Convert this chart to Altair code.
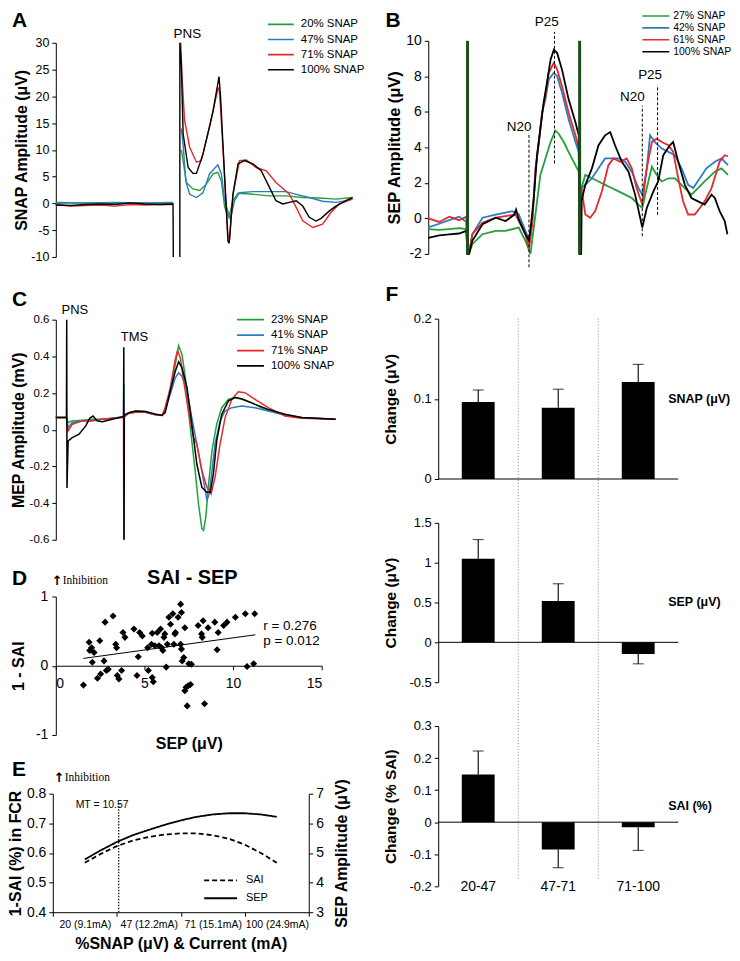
import altair as alt
import pandas as pd

FONT = "Liberation Sans"
SERIF = "Liberation Serif"
MU = "\u03bc"

GREEN = "#22a03a"
BLUE = "#2c7cc3"
RED = "#e52a2a"
BLACK = "#000000"
SNAP_COLORS = [GREEN, BLUE, RED, BLACK]

# ---------------- Panel A : SNAP traces (sweep time in arbitrary units 0-100) -------------
A_LEVELS = ["20% SNAP", "47% SNAP", "71% SNAP", "100% SNAP"]
A20_BASE = [(0, 0.0), (10, 0.1), (20, 0.0), (30, 0.1), (39.5, 0.0)]
A20_RESP = [(42.3, 10), (42.9, 8.0), (44.0, 3.9), (46.2, 2.7), (48.5, 2.4), (50.7, 3.6), (53.0, 5.5),
            (54.6, 5.8), (55.8, 4.2), (56.9, -0.75), (58.3, -2.6), (59.7, 0.5), (61.4, 1.9), (66.4, 1.7),
            (72.0, 1.4), (77.6, 1.4), (83.2, 1.1), (88.8, 1.0), (94.4, 0.8), (100, 1.1)]
A47_BASE = [(0, 0.2), (10, 0.1), (20, 0.2), (30, 0.1), (39.5, 0.2)]
A47_RESP = [(42.3, 14), (42.9, 11), (43.8, 4.2), (45.1, 1.7), (47.4, 1.1), (49.6, 2.0), (51.8, 5.5),
            (54.6, 7.2), (55.8, 5.5), (56.9, 0.5), (58.8, -2.9), (60.2, 0.5), (61.9, 2.0), (66.4, 2.2),
            (72.0, 2.2), (77.6, 2.2), (81.0, 1.7), (85.4, 1.1), (89.9, 0.4), (94.4, 0.2), (97.8, 0.5),
            (100, 1.1)]
A71_BASE = [(0, -0.2), (5, -0.5), (10, -0.4), (15, -0.3), (20, -0.5), (25, -0.2), (30, -0.3),
            (35, -0.2), (39.5, -0.2)]
A71_RESP = [(42.1, 30), (42.5, 24), (43.4, 15.5), (45.1, 10.5), (47.4, 7.7), (49.0, 8.0), (51.8, 14.2),
            (54.6, 21.4), (55.0, 21.6), (55.5, 18), (58.0, -6.0), (58.6, -6.5), (59.7, 1.7), (61.9, 8.0),
            (64.2, 8.1), (67.5, 6.7), (70.9, 6.1), (74.2, 3.9), (78.7, 1.7), (81.0, -0.75), (83.2, -3.25),
            (86.6, -4.5), (89.9, -3.9), (92.7, -1.7), (95.5, -0.1), (100, 0.8)]
A100_BASE = [(0, -0.3), (5, -0.4), (10, -0.2), (15, -0.1), (20, -0.2), (25, 0.1), (30, -0.1), (35, -0.2),
             (39.5, -0.1), (39.6, -10)]
A100_RESP = [(41.8, -10), (41.8, 30), (42.3, 26), (42.9, 13), (44.6, 6.7),
             (46.2, 5.6), (47.4, 5.6), (49.6, 9.2), (53.0, 17.3), (55.0, 23.7), (55.5, 20), (58.0, -7.0),
             (58.4, -7.5), (59.7, 1.7), (61.4, 7.4), (63.6, 8.0), (66.4, 7.4), (69.2, 6.1), (72.0, 3.0),
             (74.2, 0.5), (76.5, -0.1), (78.7, 0.2), (81.0, 0.5), (83.2, -0.5), (85.4, -2.6), (87.7, -3.3),
             (89.4, -2.8), (92.2, -1.4), (94.4, -0.5), (97.8, 0.5), (100, 1.1)]
A_NOTE = ["PNS"]
A_NOTE_T = [44.3]
A_NOTE_V = [31.7]

# ---------------- Panel B : SEP traces -------------
B_LEVELS = ["27% SNAP", "42% SNAP", "61% SNAP", "100% SNAP"]
B27 = [(0, -0.6), (3.65, -0.65), (7, -0.6), (10.3, -0.55), (12.7, -0.6), (13.1, -2.0), (13.6, -2.0),
       (14.7, -1.45), (18.1, -0.89), (22.5, -0.7), (25.8, -0.7), (30.2, -0.52), (32.4, -1.26),
       (34.1, -2.0), (35.2, -0.52), (36.3, 0.96), (37.4, 2.45), (39.1, 3.38), (40.8, 4.3), (42.4, 4.95),
       (43.5, 4.77), (45.2, 4.3), (46.8, 3.75), (49.1, 3.0), (50.2, 2.63), (50.5, -2.0), (51.0, -2.0),
       (51.1, 1.71), (52.4, 2.45), (54.6, 2.26), (56.8, 2.08), (59.0, 1.89), (61.2, 1.71), (63.5, 1.52),
       (65.7, 1.34), (67.9, 1.15), (70.1, 0.78), (71.4, 0.59), (72.9, 1.71), (74.6, 2.91), (76.2, 2.45),
       (77.9, 2.08), (80.1, 2.26), (82.3, 2.26), (84.5, 1.89), (87.8, 1.34), (90.0, 1.71), (92.2, 2.08),
       (95.6, 2.63), (97.8, 2.82), (100, 2.45)]
B42 = [(0, -0.5), (3.65, -0.3), (7, -0.1), (10.3, 0.1), (12.7, -0.2), (13.1, -2.0), (13.6, -2.0),
       (14.7, -0.89), (18.1, 0.04), (22.5, 0.22), (25.8, 0.32), (28.0, 0.41), (30.2, 0.22), (32.4, -0.7),
       (33.6, -1.17), (34.7, -0.15), (35.8, 2.82), (36.9, 4.3), (38.0, 5.97), (39.1, 6.72), (40.2, 7.83),
       (41.9, 8.2), (43.0, 8.01), (44.6, 7.09), (46.8, 5.6), (49.1, 4.3), (50.2, 3.75), (50.5, -2.0),
       (51.0, -2.0), (51.1, 1.71), (52.4, 1.89), (54.6, 2.26), (56.8, 2.82), (59.0, 3.38), (61.2, 3.38),
       (63.5, 3.38), (65.7, 3.19), (67.9, 2.63), (70.1, 1.71), (71.4, 1.34), (72.9, 2.82), (74.0, 4.68),
       (75.6, 4.3), (77.9, 3.93), (80.1, 3.75), (82.3, 3.56), (84.5, 2.82), (86.7, 1.89), (88.4, 1.71),
       (90.6, 2.26), (92.8, 2.82), (95.6, 3.19), (97.8, 3.38), (100, 3.0)]
B61 = [(0, 0.0), (3.65, -0.2), (7, 0.1), (10.3, -0.1), (12.7, 0.1), (13.1, -2.0), (13.6, -2.0),
       (14.7, -0.89), (18.1, -0.24), (22.5, 0.04), (25.8, 0.13), (29.1, 0.22), (30.2, -0.15),
       (32.4, -0.89), (33.6, -1.7), (34.7, -0.33), (35.8, 2.82), (36.9, 4.3), (38.0, 5.97), (39.1, 6.9),
       (40.2, 8.2), (41.9, 8.76), (43.0, 8.39), (44.6, 7.46), (46.8, 5.97), (49.1, 4.68), (50.2, 3.93),
       (50.5, -2.0), (51.0, -2.0), (51.1, 1.71), (52.4, 0.22), (54.0, 0.04), (55.7, 0.41), (57.9, 1.52),
       (60.1, 3.0), (61.8, 3.38), (64.0, 3.19), (66.2, 3.38), (67.9, 2.82), (69.5, 1.71), (71.4, 0.78),
       (72.9, 2.82), (74.6, 4.3), (76.2, 4.49), (77.9, 4.3), (80.1, 4.12), (81.7, 3.75), (83.4, 2.26),
       (85.0, 0.96), (86.7, 0.22), (88.9, 0.22), (90.6, 0.59), (92.2, 0.96), (94.5, 1.71), (97.2, 3.19),
       (98.9, 3.56), (100, 3.5)]
B100 = [(0, -1.1), (3.65, -0.95), (7, -0.9), (10.3, -0.85), (12.7, -0.7), (13.1, -2.0), (13.6, -2.0),
        (14.7, -1.26), (18.1, -0.33), (22.5, 0.04), (25.8, -0.15), (28.6, 0.2), (29.3, 0.5), (30.2, -0.06),
        (32.4, -0.89), (33.6, -1.26), (34.4, -0.15), (35.2, 1.15), (36.3, 3.56), (37.4, 5.05), (38.5, 6.53),
        (39.6, 7.64), (40.8, 8.94), (41.9, 9.5), (43.0, 9.31), (44.6, 8.39), (46.8, 6.72), (49.1, 5.42),
        (50.2, 4.68), (50.5, -2.0), (51.0, -2.0), (51.1, 0.96), (52.4, 1.89), (54.6, 2.82), (56.8, 4.12),
        (59.0, 4.68), (60.7, 4.86), (62.3, 4.12), (64.6, 3.19), (66.8, 2.63), (69.0, 1.34), (71.4, -0.52),
        (72.9, 0.59), (75.1, 1.52), (76.7, 2.08), (78.4, 3.56), (80.6, 4.12), (81.7, 4.3), (83.4, 3.19),
        (85.6, 1.89), (87.8, 1.15), (90.0, 0.96), (92.2, 0.78), (94.5, 1.34), (95.6, 1.15), (97.2, 0.41),
        (98.9, -0.15), (99.8, -0.89)]
B_ART_T = [13.1, 50.5]
B_ART_LO = [-2, -2]
B_ART_HI = [10, 10]
B_MARK_T = [33.6, 42.1, 71.4, 76.5]
B_MARK_LO = [-2.75, 3.1, -1.0, 0.2]
B_MARK_HI = [4.7, 10.5, 6.35, 7.5]
B_LAB = ["N20", "P25", "N20", "P25"]
B_LAB_T = [30.3, 39.5, 68.1, 74.0]
B_LAB_V = [5.14, 11.04, 6.86, 8.05]

# ---------------- Panel C : MEP traces -------------
C_LEVELS = ["23% SNAP", "41% SNAP", "71% SNAP", "100% SNAP"]
C23 = [(0, 0.066), (3.8, 0.066), (4.4, 0.039), (5.9, 0.048), (9.5, 0.052), (13.0, 0.057), (16.6, 0.057),
       (23.7, 0.07), (24.5, 0.075), (26.1, 0.093), (28.5, 0.1), (32.0, 0.099), (35.6, 0.084), (38.0, 0.079),
       (39.1, 0.12), (40.9, 0.211), (42.7, 0.356), (43.9, 0.459), (45.1, 0.41), (46.3, 0.283), (47.4, 0.102),
       (48.6, -0.061), (49.8, -0.224), (51.0, -0.405), (52.2, -0.54), (52.8, -0.549), (53.6, -0.477),
       (54.6, -0.296), (55.8, -0.115), (57.5, 0.03), (59.3, 0.12), (61.7, 0.166), (64.1, 0.175),
       (66.4, 0.166), (70.0, 0.148), (73.5, 0.12), (78.3, 0.093), (83.0, 0.075), (87.8, 0.066),
       (93.7, 0.061), (100, 0.057)]
C41 = [(0, 0.066), (3.8, 0.066), (4.4, 0.012), (5.9, 0.039), (9.5, 0.048), (13.0, 0.052), (16.6, 0.057),
       (23.7, 0.066), (24.2, 0.066), (24.3, 0.247), (24.4, 0.07), (26.1, 0.09), (28.5, 0.095), (32.0, 0.095),
       (35.6, 0.082), (38.0, 0.078), (39.1, 0.111), (40.9, 0.193), (42.7, 0.283), (43.9, 0.31), (45.1, 0.292),
       (46.9, 0.211), (48.6, 0.066), (50.4, -0.079), (52.2, -0.224), (53.4, -0.332), (54.0, -0.386),
       (54.8, -0.35), (55.8, -0.224), (56.9, -0.079), (58.7, 0.048), (60.5, 0.102), (62.9, 0.12),
       (66.4, 0.129), (71.2, 0.12), (75.9, 0.102), (81.9, 0.081), (87.8, 0.066), (100, 0.057)]
C71 = [(0, 0.066), (3.8, 0.066), (4.4, -0.006), (5.9, 0.03), (9.5, 0.048), (13.0, 0.048), (16.6, 0.057),
       (23.7, 0.066), (24.2, 0.066), (24.3, -0.6), (24.4, 0.07), (26.1, 0.09), (28.5, 0.095), (32.0, 0.095),
       (35.6, 0.082), (38.0, 0.078), (39.1, 0.12), (40.9, 0.229), (42.7, 0.383), (43.5, 0.432), (44.5, 0.392),
       (45.7, 0.265), (47.4, 0.102), (49.2, -0.043), (50.4, -0.079), (52.2, -0.224), (54.0, -0.314),
       (55.5, -0.35), (56.9, -0.26), (58.7, -0.079), (60.5, 0.066), (62.9, 0.166), (65.2, 0.207),
       (67.6, 0.202), (71.2, 0.166), (75.9, 0.12), (81.9, 0.075), (87.8, 0.062), (100, 0.057)]
C100 = [(0, 0.066), (3.8, 0.066), (3.9, 0.6), (4.0, -0.318), (4.4, -0.061), (5.9, -0.043), (8.3, -0.024),
        (10.7, 0.021), (12.1, 0.062), (13.3, 0.075), (14.8, 0.048), (16.6, 0.044), (20.2, 0.057),
        (23.7, 0.07), (24.2, 0.07), (24.3, 0.45), (24.4, -0.6), (24.5, 0.08), (26.1, 0.093), (28.5, 0.102),
        (32.0, 0.099), (35.6, 0.084), (38.0, 0.079), (39.1, 0.093), (40.9, 0.211), (42.7, 0.319),
        (43.9, 0.37), (45.1, 0.338), (46.9, 0.229), (48.6, 0.03), (50.4, -0.187), (52.2, -0.314),
        (54.0, -0.341), (55.2, -0.341), (56.3, -0.242), (57.5, -0.061), (59.3, 0.084), (61.7, 0.157),
        (64.1, 0.175), (66.4, 0.169), (71.2, 0.138), (75.9, 0.111), (81.9, 0.084), (87.8, 0.066),
        (100, 0.057)]
C_NOTE = ["PNS", "TMS"]
C_NOTE_T = [6.8, 28.1]
C_NOTE_V = [0.654, 0.508]

# ---------------- Panel D : scatter -------------
D_SEP = [1.56, 1.88, 1.91, 2.02, 2.16, 2.06, 2.35, 2.48, 2.53, 2.72, 2.78, 2.85, 2.96, 3.23, 3.38, 3.43,
         3.47, 3.56, 3.71, 3.79, 3.90, 4.41, 4.58, 4.65, 4.73, 4.88, 5.22, 5.18, 5.40, 5.44, 5.44, 5.50,
         5.59, 5.72, 5.82, 5.91, 5.97, 6.04, 6.10, 6.15, 6.23, 6.29, 6.38, 6.47, 6.60, 6.66, 6.72, 6.75,
         6.90, 7.04, 7.09, 7.09, 7.04, 7.13, 7.22, 7.28, 7.28, 7.35, 7.47, 7.60, 7.41, 7.50, 7.65, 8.03,
         8.22, 8.26, 8.31, 8.39, 8.59, 8.97, 9.10, 9.16, 9.47, 9.66, 10.13, 10.69, 10.79, 11.22, 11.16]
D_SAI = [-0.28, 0.34, 0.22, 0.26, 0.19, 0.05, -0.18, 0.36, -0.12, 0.07, 0.63, -0.07, -0.05, 0.72, 0.31, 0.26,
         -0.14, -0.19, -0.07, 0.48, 0.41, 0.53, -0.14, 0.13, 0.48, 0.43, -0.07, 0.26, 0.31, 0.47, -0.17, -0.23,
         0.29, 0.48, 0.29, 0.53, 0.26, 0.22, 0.41, 0.46, -0.02, 0.31, 0.70, 0.60, 0.75, 0.31, 0.46, 0.48,
         0.70, 0.31, 0.24, 0.77, 0.89, 0.07, 0.12, 0.55, -0.36, -0.31, -0.29, -0.27, -0.58, 0.03, 0.02, 0.58,
         0.46, 0.41, 0.65, -0.55, 0.55, 0.63, 0.23, 0.48, 0.58, 0.63, 0.70, 0.75, -0.01, 0.75, 0.03]
D_FIT_X = [1.56, 11.26]
D_FIT_Y = [0.106, 0.447]
D_STATS = ["r = 0.276", "p = 0.012"]
D_STATS_X = [11.7, 11.7]
D_STATS_Y = [0.58, 0.35]
D_TITLE = ["SAI - SEP"]
D_TITLE_X = [7.7]
D_TITLE_Y = [1.27]

# ---------------- Panel E : fitted curves -------------
E_IDX = [1, 1.25, 1.5, 1.75, 2, 2.25, 2.5, 2.75, 3, 3.25, 3.5, 3.75, 4]
E_SAI = [0.567, 0.597, 0.623, 0.642, 0.654, 0.662, 0.666, 0.666, 0.660, 0.648, 0.628, 0.600, 0.567]
E_SEP = [4.78, 5.09, 5.37, 5.60, 5.78, 5.95, 6.10, 6.22, 6.30, 6.34, 6.34, 6.30, 6.22]
E_XLABELS = ["20 (9.1mA)", "47 (12.2mA)", "71 (15.1mA)", "100 (24.9mA)"]
E_MT_I = [1.53]
E_MT_LO = [0.4]
E_MT_HI = [0.771]
E_MT_LAB = ["MT = 10.57"]
E_MT_LAB_I = [1.27]
E_MT_LAB_V = [0.763]

# ---------------- Panel F : bar charts -------------
F_CATS = ["20-47", "47-71", "71-100"]
F_SNAP = [0.096, 0.089, 0.121]
F_SNAP_ERR = [0.111, 0.112, 0.143]
F_SEP = [1.05, 0.52, -0.146]
F_SEP_ERR = [1.29, 0.735, -0.27]
F_SAI = [0.149, -0.085, -0.0155]
F_SAI_ERR = [0.222, -0.142, -0.088]
F_SEPARATORS = ["47-71", "71-100"]

NUM_LABEL = "'' + datum.value"

# ---------------- layout of the single shared view (pixels) -------------
W, H = 675, 873
A_X, A_Y = (0, 298), (0, 215)
B_X, B_Y = (374, 675), (-2, 212)
C_X, C_Y = (0, 281), (278, 499)
D_X, D_Y = (0, 267), (556, 695)
E_X, E_Y = (-3, 254), (754, 873)
F_X = (384, 625)
F1_Y, F2_Y, F3_Y = (277, 438), (482, 642), (686, 847)


def trace_frame(rows):
    recs = []
    for name, seg, pts in rows:
        for k, (t, v) in enumerate(pts):
            recs.append({"series": name, "seg": name + "|" + seg, "t": t, "v": v, "k": k})
    return pd.DataFrame(recs)


def text_at(text, dx, dy, size, font=FONT, weight="normal", baseline="top"):
    return alt.Chart(pd.DataFrame({"lab": [text]})).mark_text(
        font=font, fontSize=size, fontWeight=weight, align="left", baseline=baseline, color="black"
    ).encode(x=alt.value(dx), y=alt.value(dy), text="lab:N")


def letter(text, dx, dy):
    return text_at(text, dx, dy, 21, weight="bold")


def inhibition(dx, dy):
    return [text_at("\u2191", dx, dy, 13, font="DejaVu Sans", weight="bold", baseline="middle"),
            text_at("Inhibition", dx + 11, dy, 11.5, font=SERIF, baseline="middle")]


def snap_legend(x, y, size, clip, rowpad, fs, offset, sw):
    return alt.Legend(orient="none", legendX=x, legendY=y, title=None, direction="vertical",
                      symbolType="stroke", symbolSize=size, symbolStrokeWidth=sw, clipHeight=clip,
                      rowPadding=rowpad, labelFontSize=fs, labelOffset=offset, padding=0, labelFont=FONT)


def yax(values, title, lsize, tsize, tx, offset):
    return alt.Axis(values=values, title=title, orient="left", offset=offset, labelFontSize=lsize,
                    titleFontSize=tsize, titleX=tx, titleBaseline="middle", labelExpr=NUM_LABEL,
                    labelPadding=3)


def qscale(dom, rng):
    return alt.Scale(domain=list(dom), range=list(rng), nice=False, zero=False)


def wave_panel(df, levels, xrng, yrng, ydom, yaxis, legend, extra_layers, width=1.3):
    xs = qscale([0, 100], xrng)
    ys = qscale(ydom, [yrng[1], yrng[0]])
    X = alt.X("t:Q", scale=xs, axis=None)

    def Y(f):
        return alt.Y(f, scale=ys, axis=yaxis)

    lines = alt.Chart(df).mark_line(strokeWidth=width).encode(
        x=X, y=Y("v:Q"),
        color=alt.Color("series:N", scale=alt.Scale(domain=levels, range=SNAP_COLORS), legend=legend),
        detail="seg:N", order="k:Q")
    layers = [lines] + [f(X, Y) for f in extra_layers]
    return alt.layer(*layers)


# ---- A
dfA = trace_frame([
    (A_LEVELS[0], "b", A20_BASE), (A_LEVELS[0], "r", A20_RESP),
    (A_LEVELS[1], "b", A47_BASE), (A_LEVELS[1], "r", A47_RESP),
    (A_LEVELS[2], "b", A71_BASE), (A_LEVELS[2], "r", A71_RESP),
    (A_LEVELS[3], "b", A100_BASE), (A_LEVELS[3], "r", A100_RESP)])
axA = yax(list(range(-10, 31, 5)), "SNAP Amplitude (" + MU + "V)", 12.5, 16, -34, -A_X[0])


def a_note(X, Y):
    return alt.Chart(pd.DataFrame({"t": A_NOTE_T, "v": A_NOTE_V, "lab": A_NOTE})).mark_text(
        font=FONT, fontSize=13.5, color="black").encode(x=X, y=Y("v:Q"), text="lab:N")


panelA = wave_panel(dfA, A_LEVELS, A_X, A_Y, [-10, 30], axA,
                    snap_legend(212, -25, 676, 13, 2.2, 11.5, 6, 1.6), [a_note], 1.4)

# ---- B
dfB = trace_frame([(B_LEVELS[0], "a", B27), (B_LEVELS[1], "a", B42), (B_LEVELS[2], "a", B61),
                   (B_LEVELS[3], "a", B100)])
axB = yax([-2, 0, 2, 4, 6, 8, 10], "SEP Amplitude (" + MU + "V)", 14, 16.5, -34, -B_X[0])


def b_art(X, Y):
    return alt.Chart(pd.DataFrame({"t": B_ART_T, "lo": B_ART_LO, "hi": B_ART_HI})).mark_rule(
        color="#1a4f1a", strokeWidth=3).encode(x=X, y=Y("lo:Q"), y2="hi:Q")


def b_marks(X, Y):
    return alt.Chart(pd.DataFrame({"t": B_MARK_T, "lo": B_MARK_LO, "hi": B_MARK_HI})).mark_rule(
        color="black", strokeWidth=1, strokeDash=[3, 2]).encode(x=X, y=Y("lo:Q"), y2="hi:Q")


def b_labels(X, Y):
    return alt.Chart(pd.DataFrame({"t": B_LAB_T, "v": B_LAB_V, "lab": B_LAB})).mark_text(
        font=FONT, fontSize=13.5, color="black").encode(x=X, y=Y("v:Q"), text="lab:N")


panelB = wave_panel(dfB, B_LEVELS, B_X, B_Y, [-2, 10], axB,
                    snap_legend(588, -32, 729, 10, 1, 10.5, 3, 1.6), [b_art, b_marks, b_labels], 1.8)

# ---- C
dfC = trace_frame([(C_LEVELS[0], "a", C23), (C_LEVELS[1], "a", C41), (C_LEVELS[2], "a", C71),
                   (C_LEVELS[3], "a", C100)])
axC = yax([-0.6, -0.4, -0.2, 0, 0.2, 0.4, 0.6], "MEP Amplitude (mV)", 11.5, 16, -37, -C_X[0])


def c_note(X, Y):
    return alt.Chart(pd.DataFrame({"t": C_NOTE_T, "v": C_NOTE_V, "lab": C_NOTE})).mark_text(
        font=FONT, fontSize=13, color="black").encode(x=X, y=Y("v:Q"), text="lab:N")


panelC = wave_panel(dfC, C_LEVELS, C_X, C_Y, [-0.6, 0.6], axC,
                    snap_legend(181, C_Y[0] - 6.5, 729, 13, 2.5, 11.5, 6, 1.8), [c_note], 1.5)

# ---- D
xsD = qscale([0, 15], D_X)
ysD = qscale([-1, 1], [D_Y[1], D_Y[0]])
d_zero = (D_Y[0] + D_Y[1]) / 2.0
xaxD = alt.Axis(values=[0, 5, 10, 15], orient="bottom", offset=d_zero - H, title="SEP (" + MU + "V)",
                titleY=78.5, titleBaseline="middle", labelPadding=7, labelFontSize=14, titleFontSize=16)
yaxD = alt.Axis(values=[-1, 0, 1], orient="left", offset=-D_X[0], title="1 - SAI", titleX=-37,
                titleBaseline="middle", labelFontSize=14, titleFontSize=16, labelExpr=NUM_LABEL,
                labelPadding=4)
XD = alt.X("sep:Q", scale=xsD, axis=xaxD)
YD = alt.Y("sai:Q", scale=ysD, axis=yaxD)
d_pts = alt.Chart(pd.DataFrame({"sep": D_SEP, "sai": D_SAI})).mark_point(
    shape="diamond", filled=True, size=50, color="black", opacity=1).encode(x=XD, y=YD)
d_fit = alt.Chart(pd.DataFrame({"sep": D_FIT_X, "sai": D_FIT_Y})).mark_line(
    color="black", strokeWidth=1).encode(x=XD, y=YD)
d_stats = alt.Chart(pd.DataFrame({"sep": D_STATS_X, "sai": D_STATS_Y, "lab": D_STATS})).mark_text(
    font=FONT, fontSize=13.5, align="left", color="black").encode(x=XD, y=YD, text="lab:N")
d_title = alt.Chart(pd.DataFrame({"sep": D_TITLE_X, "sai": D_TITLE_Y, "lab": D_TITLE})).mark_text(
    font=FONT, fontSize=20, fontWeight="bold", color="black").encode(x=XD, y=YD, text="lab:N")
panelD = alt.layer(d_fit, d_pts, d_stats, d_title)

# ---- E
label_expr_E = "".join("datum.value === %d ? '%s' : " % (i + 1, s) for i, s in enumerate(E_XLABELS)) + "''"
xaxE = alt.Axis(values=[0.5, 1, 1.5, 2, 2.5, 3, 3.5, 4, 4.5], orient="bottom", offset=E_Y[1] - H,
                labelExpr=label_expr_E,
                tickOpacity={"condition": {"test": "datum.value % 1 === 0.5", "value": 1}, "value": 0},
                labelFontSize=10.5, labelPadding=3, labelFlush=False, labelOverlap=False,
                title="%SNAP (" + MU + "V) & Current (mA)", titleFontSize=16, titleY=31,
                titleBaseline="middle")
XE = alt.X("i:Q", scale=qscale([0.5, 4.5], E_X), axis=xaxE)
ysE_left = qscale([0.4, 0.8], [E_Y[1], E_Y[0]])
ysE_right = qscale([3, 7], [E_Y[1], E_Y[0]])
yaxE_left = alt.Axis(values=[0.4, 0.5, 0.6, 0.7, 0.8], orient="left", offset=-E_X[0],
                     title="1-SAI (%) in FCR", titleX=-37, titleBaseline="middle", labelFontSize=14,
                     titleFontSize=16, labelExpr=NUM_LABEL, labelPadding=3)
yaxE_right = alt.Axis(values=[3, 4, 5, 6, 7], orient="right", offset=E_X[1] - W,
                      title="SEP Amplitude (" + MU + "V)", titleX=33, titleAngle=270,
                      titleBaseline="middle", labelFontSize=14, titleFontSize=16, labelExpr=NUM_LABEL,
                      labelPadding=3)
dash = alt.StrokeDash("series:N", scale=alt.Scale(domain=["SAI", "SEP"], range=[[5, 3], [1, 0]]),
                      legend=alt.Legend(orient="none", legendX=148, legendY=E_Y[0] + 81, title=None,
                                        direction="vertical", symbolType="stroke", symbolSize=1089,
                                        symbolStrokeWidth=1.8, symbolStrokeColor="black", clipHeight=12,
                                        rowPadding=6, labelFontSize=11, labelOffset=8, padding=0,
                                        labelFont=FONT))
dfE = pd.DataFrame({"i": E_IDX * 2, "val": E_SAI + E_SEP,
                    "series": ["SAI"] * len(E_IDX) + ["SEP"] * len(E_IDX)})
e_sai = alt.Chart(dfE).transform_filter("datum.series == 'SAI'").mark_line(
    color="black", strokeWidth=1.8).encode(x=XE, y=alt.Y("val:Q", scale=ysE_left, axis=yaxE_left),
                                           strokeDash=dash)
e_mt = alt.Chart(pd.DataFrame({"i": E_MT_I, "lo": E_MT_LO, "hi": E_MT_HI})).mark_rule(
    color="black", strokeWidth=1.2, strokeDash=[1.5, 1.5]).encode(
    x=XE, y=alt.Y("lo:Q", scale=ysE_left, axis=yaxE_left), y2="hi:Q")
e_mt_lab = alt.Chart(pd.DataFrame({"i": E_MT_LAB_I, "val": E_MT_LAB_V, "lab": E_MT_LAB})).mark_text(
    font=FONT, fontSize=10.5, color="black").encode(
    x=XE, y=alt.Y("val:Q", scale=ysE_left, axis=yaxE_left), text="lab:N")
e_sep = alt.Chart(dfE).transform_filter("datum.series == 'SEP'").mark_line(
    color="black", strokeWidth=1.8).encode(
    x=XE, y=alt.Y("val:Q", scale=ysE_right, axis=yaxE_right), strokeDash=dash)
panelE = alt.layer(alt.layer(e_sai, e_mt, e_mt_lab), e_sep).resolve_scale(y="independent")


# ---- F
def f_panel(vals, errs, yrng, ydom, yvals, ytitle, side, side_y, show_x, with_seps):
    df = pd.DataFrame({"cat": F_CATS, "val": vals, "err": errs})
    xs = alt.Scale(domain=F_CATS, range=list(F_X), paddingInner=0, paddingOuter=0)
    if show_x:
        xaxis = alt.Axis(title=None, orient="bottom", offset=yrng[1] - H, domain=False, ticks=False,
                         labelAngle=0, labelFontSize=14, labelPadding=0, labelBaseline="middle")
    else:
        xaxis = None
    ys = qscale(ydom, [yrng[1], yrng[0]])
    yaxis = alt.Axis(values=yvals, title=ytitle, orient="left", offset=-F_X[0], titleX=-48,
                     titleBaseline="middle", labelFontSize=13, titleFontSize=15.5,
                     labelExpr=NUM_LABEL, labelPadding=3)
    X = alt.X("cat:N", sort=F_CATS, scale=xs, axis=xaxis)

    def Y(f):
        return alt.Y(f, scale=ys, axis=yaxis)

    bars = alt.Chart(df).mark_bar(size=33, color="black").encode(x=X, y=Y("val:Q"), y2=alt.datum(0))
    whisk = alt.Chart(df).mark_rule(color="black", strokeWidth=1.1).encode(x=X, y=Y("val:Q"), y2="err:Q")
    caps = alt.Chart(df).mark_tick(color="black", size=11, thickness=1.1).encode(x=X, y=Y("err:Q"))
    zero = alt.Chart(pd.DataFrame({"z": [0]})).mark_rule(color="black", strokeWidth=1).encode(
        x=alt.value(F_X[0]), x2=alt.value(F_X[1]), y=Y("z:Q"))
    lab = alt.Chart(pd.DataFrame({"lab": [side], "y": [side_y]})).mark_text(
        font=FONT, fontSize=12.5, fontWeight="bold", align="left", color="black").encode(
        x=alt.value(615), y=Y("y:Q"), text="lab:N")
    layers = [bars, whisk, caps, zero, lab]
    if with_seps:
        seps = alt.Chart(pd.DataFrame({"cat": F_SEPARATORS})).mark_rule(
            color="#8a8a8a", strokeWidth=1, strokeDash=[1, 2]).encode(
            x=alt.X("cat:N", sort=F_CATS, scale=xs, axis=xaxis, bandPosition=0),
            y=alt.value(F1_Y[0]), y2=alt.value(841))
        layers = [seps] + layers
    return alt.layer(*layers)


panelF1 = f_panel(F_SNAP, F_SNAP_ERR, F1_Y, [0, 0.2], [0, 0.1, 0.2], "Change (" + MU + "V)",
                  "SNAP (" + MU + "V)", 0.1, False, True)
panelF2 = f_panel(F_SEP, F_SEP_ERR, F2_Y, [-0.5, 1.5], [-0.5, 0, 0.5, 1, 1.5], "Change (" + MU + "V)",
                  "SEP (" + MU + "V)", 0.5, False, False)
panelF3 = f_panel(F_SAI, F_SAI_ERR, F3_Y, [-0.2, 0.3], [-0.2, -0.1, 0, 0.1, 0.2, 0.3], "Change (% SAI)",
                  "SAI (%)", 0.05, True, False)

annotations = [
    letter("A", -44, -33), letter("B", 331, -33), letter("C", -44, 247), letter("D", -44, 527),
    letter("E", -44, 719), letter("F", 331, 242),
] + inhibition(-4, 540) + inhibition(-2, 738)

chart = alt.layer(
    panelA, panelB, panelC, panelD, panelE, panelF1, panelF2, panelF3, *annotations
).resolve_scale(
    x="independent", y="independent", color="independent", strokeDash="independent"
).resolve_axis(x="independent", y="independent").properties(
    width=W, height=H, padding=0
).configure_view(stroke=None).configure_axis(
    grid=False, domainColor="black", tickColor="black", labelColor="black", titleColor="black",
    labelFont=FONT, titleFont=FONT, titleFontWeight="bold", tickSize=4, domainWidth=1, tickWidth=1
).configure_legend(labelFont=FONT, labelColor="black")

chart.save("out.html", embed_options={"renderer": "svg", "actions": False})
